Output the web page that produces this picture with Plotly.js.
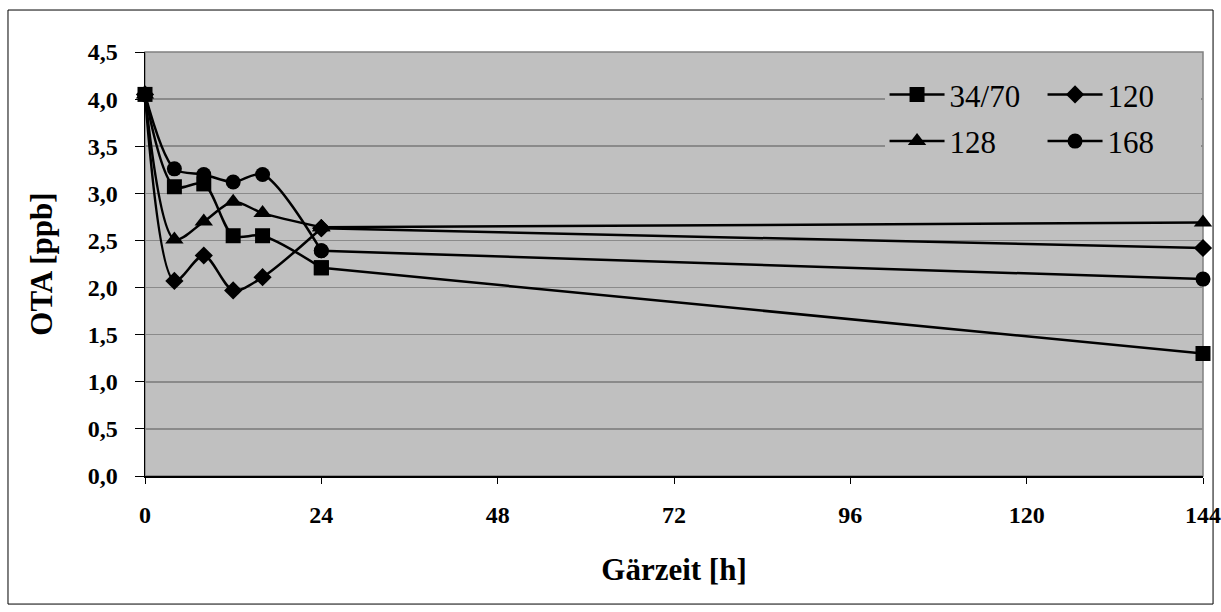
<!DOCTYPE html>
<html><head><meta charset="utf-8">
<script src="https://cdn.plot.ly/plotly-3.0.1.min.js"></script>
<style>html,body{margin:0;padding:0;background:#fff}#chart{width:1221px;height:612px}</style>
</head><body><div id="chart"></div>
<script>
const hours = [0, 4, 8, 12, 16, 24, 144];
const s3470 = [4.05, 3.07, 3.10, 2.55, 2.55, 2.21, 1.30];
const s120  = [4.05, 2.07, 2.34, 1.97, 2.11, 2.63, 2.42];
const s128  = [4.05, 2.51, 2.70, 2.91, 2.79, 2.64, 2.69];
const s168  = [4.05, 3.26, 3.20, 3.12, 3.20, 2.39, 2.09];
const seriesNames = ['34/70', '120', '128', '168'];
const yTicks = [0, 0.5, 1, 1.5, 2, 2.5, 3, 3.5, 4, 4.5];
const yTickText = ['0,0','0,5','1,0','1,5','2,0','2,5','3,0','3,5','4,0','4,5'];
const xTicks = [0, 24, 48, 72, 96, 120, 144];

const serif = '"Liberation Serif", "Times New Roman", serif';
const data = [];
function addSeries(y, name, sym, size, leg){
  // early, densely sampled part: smoothed curve
  data.push({x: hours.slice(0, 6), y: y.slice(0, 6), name: name, type: 'scatter', mode: 'lines+markers', cliponaxis: false,
    line: {color: '#000', width: 2.5, shape: 'spline', smoothing: 0.85},
    marker: {symbol: sym, size: size, color: '#000'}, legend: leg, legendgroup: name});
  // long last interval 24 h -> 144 h
  data.push({x: hours.slice(5), y: y.slice(5), name: name, type: 'scatter', mode: 'lines+markers', cliponaxis: false,
    line: {color: '#000', width: 2.5},
    marker: {symbol: sym, size: size, color: '#000'}, legend: leg, legendgroup: name, showlegend: false});
}
addSeries(s3470, seriesNames[0], 'square', 15, 'legend');
addSeries(s120, seriesNames[1], 'diamond', 14, 'legend');
addSeries(s128, seriesNames[2], 'triangle-up', 16, 'legend2');
addSeries(s168, seriesNames[3], 'circle', 15, 'legend2');

const legCommon = {orientation: 'h', bgcolor: '#C0C0C0', borderwidth: 0,
  font: {family: serif, size: 31, color: '#000'}, itemwidth: 55, entrywidth: 88, entrywidthmode: 'pixels',
  xanchor: 'left', yanchor: 'middle', itemclick: false, tracegroupgap: 0};
const layout = {
  width: 1221, height: 612,
  margin: {l: 145, r: 18, t: 52, b: 136, autoexpand: false},
  paper_bgcolor: '#fff', plot_bgcolor: '#C0C0C0',
  showlegend: true,
  legend: Object.assign({}, legCommon, {x: 0.699, y: 0.899}),
  legend2: Object.assign({}, legCommon, {x: 0.699, y: 0.789}),
  xaxis: {range: [0, 144], tickvals: xTicks, ticktext: xTicks.map(v => '<b>' + v + '</b>'), showgrid: false, zeroline: false,
    showline: true, linecolor: '#000', linewidth: 1.5, ticks: 'outside', ticklen: 6, tickcolor: '#000',
    ticklabelstandoff: 11,
    tickfont: {family: serif, size: 24, color: '#000'},
    title: {text: '<b>Gärzeit [h]</b>', font: {family: serif, size: 31, color: '#000'}, standoff: 31}},
  yaxis: {range: [0, 4.5], tickvals: yTicks, ticktext: yTickText.map(v => '<b>' + v + '</b>'), showgrid: true, gridcolor: '#8a8a8a', gridwidth: 1.5,
    zeroline: false, showline: true, linecolor: '#000', linewidth: 1.5, ticks: 'outside', ticklen: 9, tickcolor: '#000',
    ticklabelstandoff: 12,
    tickfont: {family: serif, size: 24, color: '#000'},
    title: {text: '<b>OTA [ppb]</b>', font: {family: serif, size: 31, color: '#000'}, standoff: 26}},
  shapes: [
    {type: 'rect', xref: 'paper', yref: 'paper', x0: 0, x1: 1, y0: 0, y1: 1, line: {color: '#808080', width: 1.5}, layer: 'below'},
    {type: 'rect', xref: 'paper', yref: 'paper', x0: -0.1295, x1: 1.0095, y0: -0.302, y1: 1.099, line: {color: '#000', width: 1}}
  ]
};
Plotly.newPlot('chart', data, layout, {displayModeBar: false, staticPlot: true});
</script></body></html>
